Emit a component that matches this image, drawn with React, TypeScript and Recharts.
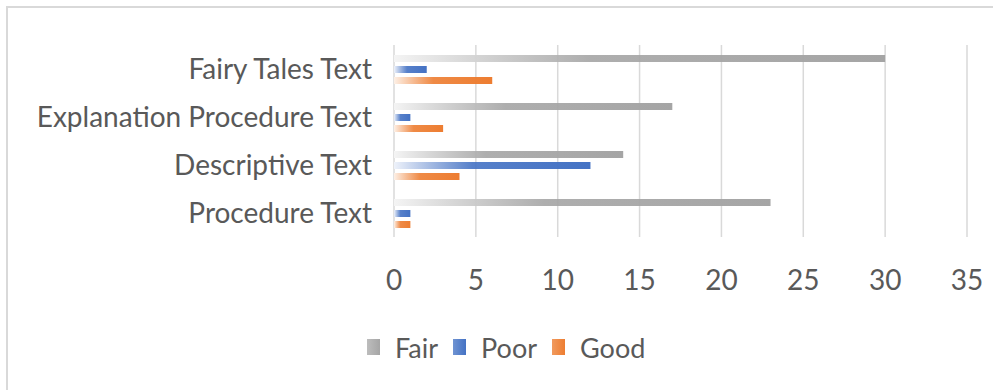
import React from "react";
import { BarChart, Bar, XAxis, YAxis, CartesianGrid, Legend } from "recharts";

const categories = [
  "Fairy Tales Text",
  "Explanation Procedure Text",
  "Descriptive Text",
  "Procedure Text",
];
const fairValues = [30, 17, 14, 23];
const poorValues = [2, 1, 12, 1];
const goodValues = [6, 3, 4, 1];
const xTicks = [0, 5, 10, 15, 20, 25, 30, 35];

const seriesInfo = [
  { key: "Fair", color: "#a5a5a5", light: "#f4f4f4", mid: "#bdbdbd" },
  { key: "Poor", color: "#4472c4", light: "#eef2fa", mid: "#6f93d2" },
  { key: "Good", color: "#ed7d31", light: "#fdf0e6", mid: "#f19a5e" },
];

const data = categories.map((name, i) => ({
  name,
  Fair: fairValues[i],
  Poor: poorValues[i],
  Good: goodValues[i],
}));

const FONT = "Lato, 'Open Sans', sans-serif";
const TEXT = "#595959";

const renderLegend = () => (
  <div
    style={{
      display: "flex",
      alignItems: "center",
      paddingLeft: 367,
      height: 40,
      fontFamily: FONT,
      fontSize: 27,
      color: TEXT,
    }}
  >
    {seriesInfo.map((s) => (
      <div key={s.key} style={{ display: "flex", alignItems: "center", marginRight: 15 }}>
        <svg width={13} height={16} style={{ flexShrink: 0, marginRight: 15, display: "block" }}>
          <defs>
            <linearGradient id={`lg-${s.key}`} x1="0" y1="0" x2="1" y2="0">
              <stop offset="0%" stopColor={s.mid} />
              <stop offset="100%" stopColor={s.color} />
            </linearGradient>
          </defs>
          <rect x={0} y={0} width={13} height={16} fill={`url(#lg-${s.key})`} />
        </svg>
        <span>{s.key}</span>
      </div>
    ))}
  </div>
);

export default function App() {
  return (
    <div style={{ position: "absolute", left: 0, top: 0, width: 993, height: 390, background: "#fff" }}>
      <div
        style={{
          position: "absolute",
          left: 6,
          top: 6,
          width: 1000,
          height: 400,
          border: "2px solid #d9d9d9",
          boxSizing: "border-box",
        }}
      />
      <BarChart
        width={993}
        height={390}
        data={data}
        layout="vertical"
        margin={{ top: 45, right: 26, left: 0, bottom: 53 }}
        barSize={7}
        barGap={4}
        style={{ position: "absolute", left: 0, top: 0 }}
      >
        <defs>
          {seriesInfo.map((s) => (
            <linearGradient key={s.key} id={`grad-${s.key}`} x1="0" y1="0" x2="1" y2="0">
              <stop offset="0%" stopColor={s.light} />
              <stop offset="40%" stopColor={s.color} stopOpacity={0.9} />
              <stop offset="100%" stopColor={s.color} />
            </linearGradient>
          ))}
        </defs>
        <CartesianGrid horizontal={false} stroke="#d9d9d9" strokeWidth={1.5} />
        <XAxis
          type="number"
          domain={[0, 35]}
          ticks={xTicks}
          axisLine={false}
          tickLine={false}
          tickSize={0}
          tickMargin={33}
          height={60}
          tick={{ fontFamily: FONT, fontSize: 28, fill: TEXT }}
        />
        <YAxis
          type="category"
          dataKey="name"
          width={394}
          axisLine={false}
          tickLine={false}
          tickSize={0}
          tickMargin={22}
          interval={0}
          tick={{ fontFamily: FONT, fontSize: 28, fill: TEXT }}
        />
        <Legend verticalAlign="bottom" content={renderLegend} wrapperStyle={{ top: 327, left: 0, width: 993 }} />
        {seriesInfo.map((s) => (
          <Bar key={s.key} dataKey={s.key} fill={`url(#grad-${s.key})`} isAnimationActive={false} />
        ))}
      </BarChart>
    </div>
  );
}
